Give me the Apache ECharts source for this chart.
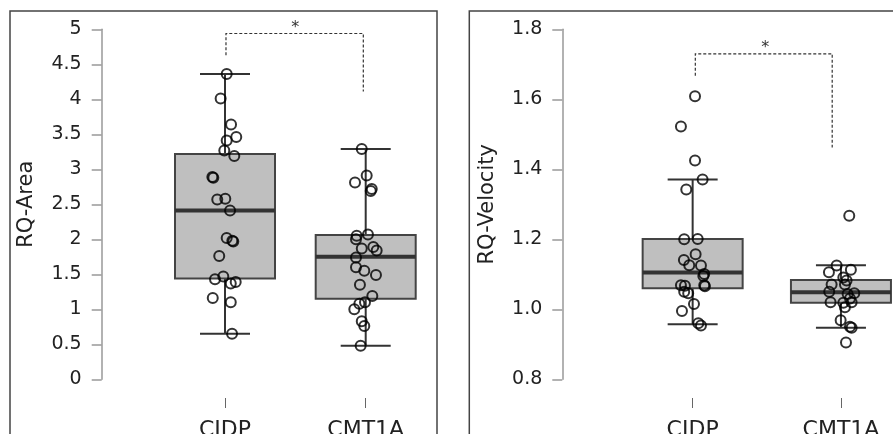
<!DOCTYPE html>
<html>
<head>
<meta charset="utf-8">
<script src="https://cdn.jsdelivr.net/npm/echarts@6/dist/echarts.min.js"></script>
<style>
  html, body { margin: 0; padding: 0; background: #fff; }
  #main { width: 893px; height: 434px; }
</style>
</head>
<body>
<div id="main"></div>
<script>
// 分组
const categories = ['CIDP', 'CMT1A'];

// 箱线图统计量: [min, q1, median, q3, max]
const areaStats = [[0.65, 1.44, 2.41, 3.22, 4.36], [0.48, 1.15, 1.75, 2.06, 3.29]];
const velStats = [[0.957, 1.060, 1.105, 1.201, 1.371], [0.947, 1.019, 1.049, 1.084, 1.126]];

// 散点 (值 + 横向抖动)
const cidpArea = [4.36, 4.01, 3.64, 3.41, 3.46, 3.27, 3.19, 2.89, 2.88, 2.57, 2.58, 2.41, 2.02, 1.98, 1.97, 1.76, 1.43, 1.47, 1.37, 1.39, 1.16, 1.10, 0.65];
const cidpAreaJit = [0.012, -0.031, 0.043, 0.012, 0.080, -0.005, 0.066, -0.090, -0.083, -0.055, 0.002, 0.036, 0.012, 0.052, 0.059, -0.041, -0.071, -0.012, 0.041, 0.076, -0.087, 0.041, 0.050];
const cmtArea = [3.29, 2.91, 2.81, 2.72, 2.69, 2.07, 2.05, 2.00, 1.87, 1.89, 1.84, 1.74, 1.60, 1.55, 1.49, 1.35, 1.19, 1.10, 1.08, 1.00, 0.83, 0.76, 0.48];
const cmtAreaJit = [-0.028, 0.007, -0.076, 0.043, 0.036, 0.016, -0.064, -0.069, -0.028, 0.054, 0.078, -0.069, -0.069, -0.010, 0.073, -0.041, 0.047, -0.005, -0.045, -0.081, -0.028, -0.010, -0.036];

const cidpVel = [1.609, 1.522, 1.425, 1.371, 1.342, 1.200, 1.201, 1.157, 1.141, 1.126, 1.125, 1.101, 1.095, 1.069, 1.067, 1.069, 1.066, 1.050, 1.046, 1.015, 0.995, 0.960, 0.954];
const cidpVelJit = [0.016, -0.079, 0.016, 0.067, -0.043, -0.057, 0.034, 0.020, -0.059, -0.023, 0.056, 0.078, 0.072, -0.079, -0.052, 0.078, 0.083, -0.057, -0.030, 0.009, -0.072, 0.038, 0.056];
const cmtVel = [1.267, 1.125, 1.106, 1.113, 1.091, 1.082, 1.071, 1.071, 1.050, 1.044, 1.046, 1.031, 1.020, 1.019, 1.020, 1.006, 0.969, 0.950, 0.947, 0.905];
const cmtVelJit = [0.056, -0.029, -0.081, 0.067, 0.016, 0.038, -0.063, 0.027, -0.079, 0.045, 0.090, 0.061, -0.070, 0.016, 0.072, 0.027, -0.002, 0.061, 0.072, 0.034];

// 显著性标注: [左竖线底, 横线, 右竖线底, 星号]
const bracketArea = [4.63, 4.94, 4.11, 5.02];
const bracketAreaX = [0.007, 0.983, 0.50];
const bracketVel = [1.667, 1.730, 1.462, 1.746];
const bracketVelX = [0.018, 0.941, 0.49];

const FONT = 'DejaVu Sans';

function pts(vals, jit, cat) {
  return vals.map((v, i) => [cat + jit[i], v]);
}

function boxItem(params, api) {
  const x = api.value(0);
  const lo = api.coord([x, api.value(1)]);
  const q1 = api.coord([x, api.value(2)]);
  const md = api.coord([x, api.value(3)]);
  const q3 = api.coord([x, api.value(4)]);
  const hi = api.coord([x, api.value(5)]);
  const cx = lo[0];
  const hw = 50, cw = 25;
  const lineStyle = { stroke: '#333', lineWidth: 2 };
  return {
    type: 'group',
    children: [
      { type: 'line', shape: { x1: cx, y1: lo[1], x2: cx, y2: hi[1] }, style: lineStyle },
      { type: 'rect', shape: { x: cx - hw, y: q3[1], width: hw * 2, height: q1[1] - q3[1] },
        style: { fill: '#bfbfbf', stroke: '#444', lineWidth: 2 } },
      { type: 'line', shape: { x1: cx - hw, y1: md[1], x2: cx + hw, y2: md[1] }, style: { stroke: '#333', lineWidth: 4 } },
      { type: 'line', shape: { x1: cx - cw, y1: lo[1], x2: cx + cw, y2: lo[1] }, style: lineStyle },
      { type: 'line', shape: { x1: cx - cw, y1: hi[1], x2: cx + cw, y2: hi[1] }, style: lineStyle }
    ]
  };
}

function bracketSeries(xi, yi, b, bx) {
  return {
    type: 'custom',
    xAxisIndex: xi,
    yAxisIndex: yi,
    silent: true,
    clip: false,
    z: 5,
    data: [[bx[0], bx[1], bx[2], b[0], b[1], b[2], b[3]]],
    renderItem: function (params, api) {
      const a = api.coord([api.value(0), api.value(3)]);
      const t1 = api.coord([api.value(0), api.value(4)]);
      const t2 = api.coord([api.value(1), api.value(4)]);
      const c = api.coord([api.value(1), api.value(5)]);
      const s = api.coord([api.value(2), api.value(6)]);
      return {
        type: 'group',
        children: [
          { type: 'polyline', shape: { points: [a, t1, t2, c] },
            style: { stroke: '#333', lineWidth: 1.2, lineDash: [3, 2], fill: null } },
          { type: 'text', x: s[0], y: s[1],
            style: { text: '*', fontSize: 16, fontFamily: FONT, fill: '#333', align: 'center', verticalAlign: 'middle' } }
        ]
      };
    }
  };
}

function catAxis(gi) {
  return {
    type: 'category', gridIndex: gi, data: categories, boundaryGap: true, offset: 18.7,
    axisLine: { show: false, onZero: false },
    axisTick: { show: true, alignWithLabel: true, length: 10, lineStyle: { color: '#666', width: 1 } },
    axisLabel: { fontSize: 22, fontFamily: FONT, color: '#222', margin: 21 },
    splitLine: { show: false }
  };
}

function valXAxis(gi) {
  return { type: 'value', gridIndex: gi, min: -0.5, max: 1.5, show: false, splitLine: { show: false } };
}

function yAx(gi, min, max, step, name, offset, gap, fmt) {
  return {
    type: 'value', gridIndex: gi, min: min, max: max, interval: step, offset: offset,
    name: name, nameLocation: 'middle', nameRotate: 90, nameGap: gap,
    nameTextStyle: { fontSize: 21, fontFamily: FONT, color: '#222' },
    axisLine: { show: true, onZero: false, lineStyle: { color: '#999', width: 1.5 } },
    axisTick: { show: true, length: 10, lineStyle: { color: '#999', width: 1.5 } },
    axisLabel: { fontSize: 19, fontFamily: FONT, color: '#222', margin: 20, formatter: fmt },
    splitLine: { show: false }
  };
}

const scatterStyle = { color: 'rgba(0,0,0,0)', borderColor: '#000', borderWidth: 2 };

let chart = echarts.init(document.getElementById('main'));
chart.setOption({
  animation: false,
  backgroundColor: '#fff',
  graphic: [
    { type: 'rect', shape: { x: 10, y: 11, width: 427, height: 440 }, style: { fill: null, stroke: '#444', lineWidth: 1.5 }, z: -1 },
    { type: 'rect', shape: { x: 469.3, y: 11, width: 440, height: 440 }, style: { fill: null, stroke: '#444', lineWidth: 1.5 }, z: -1 }
  ],
  grid: [
    { left: 154.65, top: 29.3, width: 281.4, height: 350, outerBoundsMode: 'none', containLabel: false },
    { left: 618.5, top: 29.3, width: 296.6, height: 350, outerBoundsMode: 'none', containLabel: false }
  ],
  xAxis: [catAxis(0), valXAxis(0), catAxis(1), valXAxis(1)],
  yAxis: [
    yAx(0, 0, 5, 0.5, 'RQ-Area', 52.95, 65, v => String(Math.round(v * 10) / 10)),
    yAx(1, 0.8, 1.8, 0.2, 'RQ-Velocity', 56.2, 64, v => v.toFixed(1))
  ],
  series: [
    { type: 'custom', xAxisIndex: 1, yAxisIndex: 0, renderItem: boxItem, clip: false, z: 2,
      data: areaStats.map((s, i) => [i].concat(s)) },
    { type: 'custom', xAxisIndex: 3, yAxisIndex: 1, renderItem: boxItem, clip: false, z: 2,
      data: velStats.map((s, i) => [i].concat(s)) },
    { type: 'scatter', xAxisIndex: 1, yAxisIndex: 0, symbol: 'circle', symbolSize: 10, z: 3,
      itemStyle: scatterStyle, data: pts(cidpArea, cidpAreaJit, 0).concat(pts(cmtArea, cmtAreaJit, 1)) },
    { type: 'scatter', xAxisIndex: 3, yAxisIndex: 1, symbol: 'circle', symbolSize: 10, z: 3,
      itemStyle: scatterStyle, data: pts(cidpVel, cidpVelJit, 0).concat(pts(cmtVel, cmtVelJit, 1)) },
    bracketSeries(1, 0, bracketArea, bracketAreaX),
    bracketSeries(3, 1, bracketVel, bracketVelX)
  ]
});
</script>
</body>
</html>
